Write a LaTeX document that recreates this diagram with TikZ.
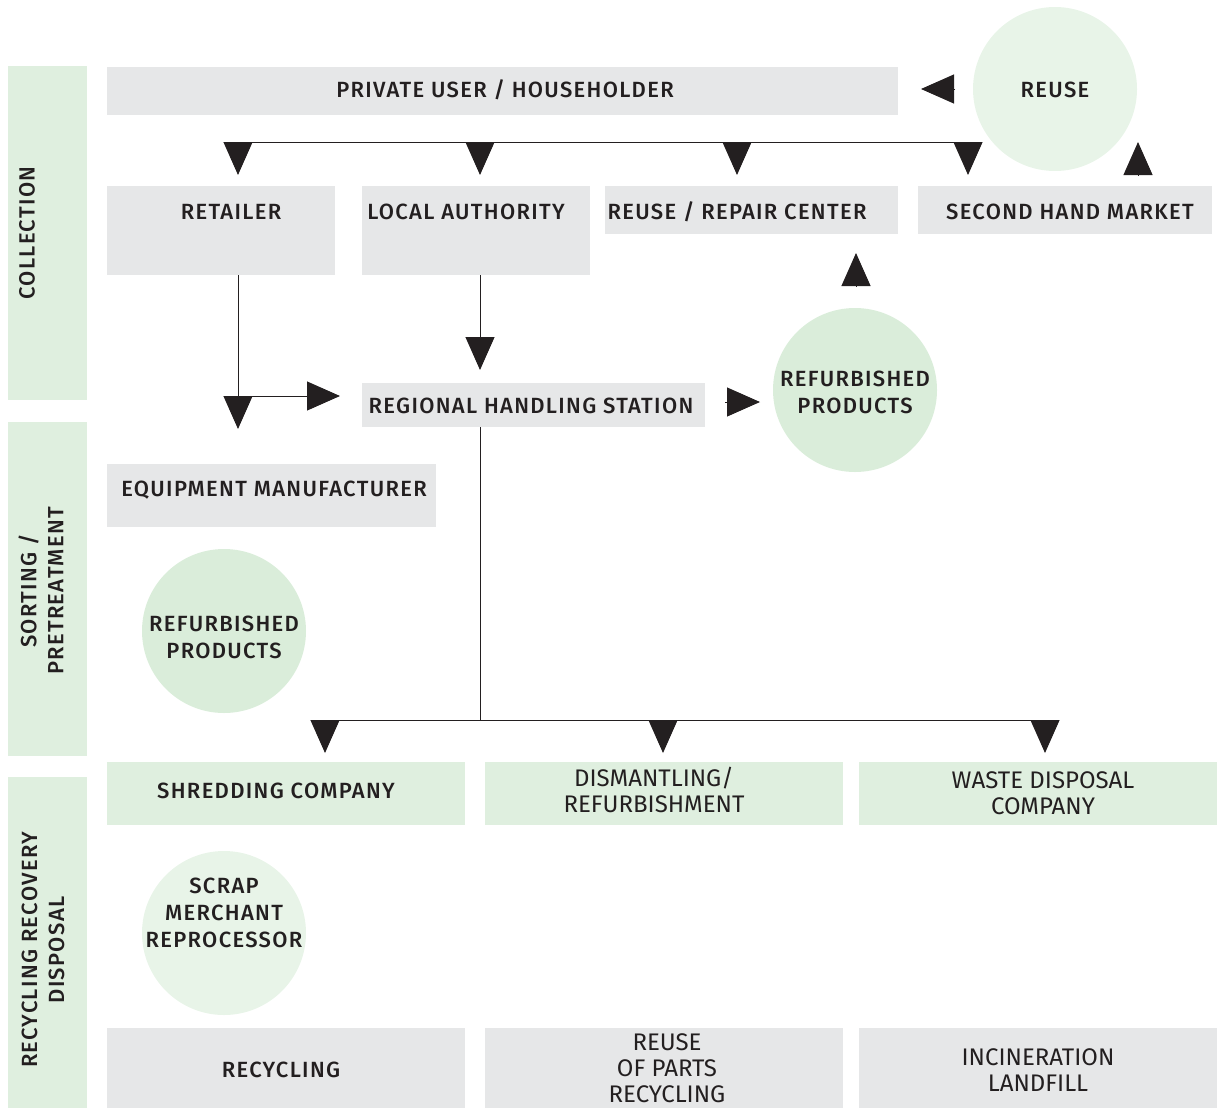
\documentclass[tikz,border=0pt]{standalone}
\usepackage{fontspec}
\setmainfont{Fira Sans}[UprightFont=* Medium, LetterSpace=6]
\newfontfamily\condfont{Fira Sans}
\usetikzlibrary{arrows.meta}
\definecolor{boxgray}{HTML}{E6E7E8}
\definecolor{bandgreen}{HTML}{DFEFDF}
\definecolor{circlight}{HTML}{E8F4E8}
\definecolor{circmid}{HTML}{DAEDDA}
\definecolor{ink}{HTML}{231F20}
\tikzset{
  base/.style={inner sep=0pt, outer sep=0pt, text=ink, align=center,
    font=\fontsize{22}{27}\selectfont},
  gbox/.style={base, fill=boxgray, rectangle},
  grbox/.style={base, fill=bandgreen, rectangle},
  band/.style={base, fill=bandgreen, rectangle, minimum width=79pt},
  lightcirc/.style={base, circle, fill=circlight, minimum size=164pt},
  midcirc/.style={base, circle, fill=circmid, minimum size=164pt},
  txt/.style={base},
  cond/.style={font=\condfont\fontsize{24}{26}\selectfont},
  conn/.style={draw=ink, line width=1pt},
  tri/.style={conn, -{Triangle[width=29pt,length=33pt]}, fill=ink},
}
\begin{document}
\begin{tikzpicture}[x=1pt,y=-1pt]
\useasboundingbox (0,0) rectangle (1222,1108);
% bands
\node[band, minimum height=334pt] (bandA) at (47.5,233) {};
\node[band, minimum height=334pt] (bandB) at (47.5,589) {};
\node[band, minimum height=331pt] (bandC) at (47.5,942.5) {};
\node[txt, rotate=90] (labA) at (27,233) {COLLECTION};
\node[txt, rotate=90] (labB) at (41,591) {SORTING /\\PRETREATMENT};
\node[txt, rotate=90] (labC) at (43,950) {RECYCLING RECOVERY\\DISPOSAL};
% circles
\node[lightcirc] (reuse) at (1055,89) {};
\node[txt] (reuseT) at (1055,90) {REUSE};
\node[midcirc] (refR) at (855,390) {};
\node[txt] (refRT) at (855,392) {REFURBISHED\\PRODUCTS};
\node[midcirc] (refL) at (224,631) {};
\node[txt] (refLT) at (224,637) {REFURBISHED\\PRODUCTS};
\node[lightcirc] (scrap) at (224,933) {};
\node[txt] (scrapT) at (224,913) {SCRAP\\MERCHANT\\REPROCESSOR};
% boxes
\node[gbox, minimum width=791pt, minimum height=48pt] (private) at (502.5,91) {};
\node[txt] (privateT) at (505,90) {PRIVATE USER / HOUSEHOLDER};
\node[gbox, minimum width=228pt, minimum height=89pt] (retailer) at (221,230.5) {};
\node[txt] (retailerT) at (231,212) {RETAILER};
\node[gbox, minimum width=228pt, minimum height=89pt] (local) at (476,230.5) {};
\node[txt] (localT) at (466,212) {LOCAL AUTHORITY};
\node[gbox, minimum width=293pt, minimum height=48pt] (repair) at (751.5,210) {};
\node[txt] (repairT) at (737,212) {REUSE / REPAIR CENTER};
\node[gbox, minimum width=294pt, minimum height=48pt] (second) at (1065,210) {};
\node[txt] (secondT) at (1070,212) {SECOND HAND MARKET};
\node[gbox, minimum width=343pt, minimum height=44pt] (regional) at (533.5,405) {};
\node[txt] (regionalT) at (531,406) {REGIONAL HANDLING STATION};
\node[gbox, minimum width=329pt, minimum height=63pt] (equip) at (271.5,495.5) {};
\node[txt] (equipT) at (274,490) {EQUIPMENT MANUFACTURER};
\node[grbox, minimum width=358pt, minimum height=63pt] (shred) at (286,793.5) {};
\node[txt] (shredT) at (276,791) {SHREDDING COMPANY};
\node[grbox, minimum width=358pt, minimum height=63pt] (dismant) at (664,793.5) {};
\node[txt, cond] (dismantT) at (654,790) {DISMANTLING/\\REFURBISHMENT};
\node[grbox, minimum width=358pt, minimum height=63pt] (waste) at (1038,793.5) {};
\node[txt, cond] (wasteT) at (1043,793) {WASTE DISPOSAL\\COMPANY};
\node[gbox, minimum width=358pt, minimum height=80pt] (recyc) at (286,1068) {};
\node[txt] (recycT) at (281,1070) {RECYCLING};
\node[gbox, minimum width=358pt, minimum height=80pt] (parts) at (664,1068) {};
\node[txt, cond] (partsT) at (667,1068) {REUSE\\OF PARTS\\RECYCLING};
\node[gbox, minimum width=358pt, minimum height=80pt] (incin) at (1038,1068) {};
\node[txt, cond] (incinT) at (1038,1070) {INCINERATION\\LANDFILL};
% coordinates
\coordinate (barL) at (238,142);
\coordinate (barB) at (480,142);
\coordinate (barC) at (737,142);
\coordinate (barR) at (968,142);
\coordinate (aL) at (238,175);
\coordinate (aB) at (480,175);
\coordinate (aC) at (737,175);
\coordinate (aR) at (968,175);
\coordinate (reuseIn1) at (955,89);
\coordinate (reuseIn2) at (921,89);
\coordinate (shUp1) at (1138,175);
\coordinate (shUp2) at (1138,142);
\coordinate (rpUp1) at (856,286);
\coordinate (rpUp2) at (856,253);
\coordinate (retJ) at (238,396);
\coordinate (retD) at (238,429);
\coordinate (retR) at (340,396);
\coordinate (locD) at (480,370);
\coordinate (rhR1) at (725,402);
\coordinate (rhR2) at (760,402);
\coordinate (rhTop) at (480,427);
\coordinate (rhJ) at (480,720);
\coordinate (lowL) at (325,720);
\coordinate (lowB) at (663,720);
\coordinate (lowR) at (1045,720);
\coordinate (lowLd) at (325,753);
\coordinate (lowBd) at (663,753);
\coordinate (lowRd) at (1045,753);
% connectors
\draw[conn] (barL) -- (barR);
\draw[tri] (barL) -- (aL);
\draw[tri] (barB) -- (aB);
\draw[tri] (barC) -- (aC);
\draw[tri] (barR) -- (aR);
\draw[tri] (reuseIn1) -- (reuseIn2);
\draw[tri] (shUp1) -- (shUp2);
\draw[tri] (rpUp1) -- (rpUp2);
\draw[conn] (retailer.south -| retJ) -- (retJ);
\draw[tri] (retJ) -- (retD);
\draw[tri] (retJ) -- (retR);
\draw[tri] (local.south -| locD) -- (locD);
\draw[tri] (rhR1) -- (rhR2);
\draw[conn] (rhTop) -- (rhJ);
\draw[conn] (lowL) -- (lowR);
\draw[tri] (lowL) -- (lowLd);
\draw[tri] (lowB) -- (lowBd);
\draw[tri] (lowR) -- (lowRd);
\end{tikzpicture}
\end{document}
